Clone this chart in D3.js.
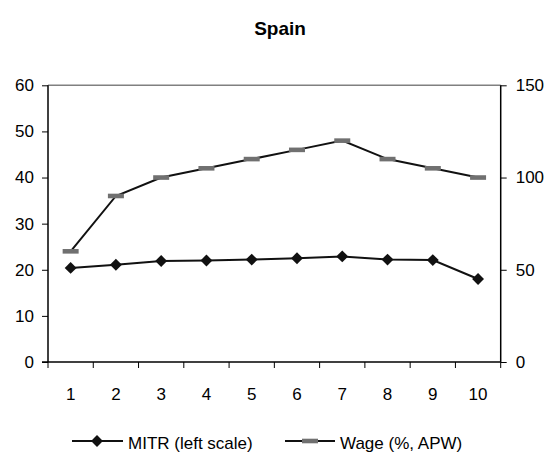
<!DOCTYPE html>
<html>
<head>
<meta charset="utf-8">
<script src="https://cdn.jsdelivr.net/npm/d3@7"></script>
<style>
body{margin:0;background:#fff}
text{font-family:"Liberation Sans",Arial,sans-serif}
</style>
</head>
<body>
<div id="chart"></div>
<script>
var categories = [1,2,3,4,5,6,7,8,9,10]
var mitr = [20.4,21.1,21.9,22.0,22.2,22.5,22.9,22.2,22.1,18.0]
var wage = [60,90,100,105,110,115,120,110,105,100]
var leftTicks = [0,10,20,30,40,50,60]
var rightTicks = [0,50,100,150]
var title = "Spain"
var seriesNames = ["MITR (left scale)","Wage (%, APW)"]

drawChart()

function drawChart(){
    var width = 551, height = 462
    var left = 48, right = 500.7, top = 85.3, bottom = 362
    var svg = d3.select("#chart").append("svg").attr("width",width).attr("height",height)

    var x = d3.scaleBand().domain(categories).range([left,right]).padding(0)
    var yL = d3.scaleLinear().domain([0,60]).range([bottom,top])
    var yR = d3.scaleLinear().domain([0,150]).range([bottom,top])
    var cx = function(d){return x(d)+x.bandwidth()/2}

    svg.append("text").attr("x",280).attr("y",35).attr("text-anchor","middle")
        .attr("font-size",19).attr("font-weight","bold").text(title)

    // top border of plot
    svg.append("line").attr("x1",left).attr("x2",right).attr("y1",top).attr("y2",top)
        .attr("stroke","#808080").attr("stroke-width",1.5)

    var axL = svg.append("g").attr("transform","translate("+left+",0)")
        .call(d3.axisLeft(yL).tickValues(leftTicks).tickSize(6).tickPadding(8))
    var axR = svg.append("g").attr("transform","translate("+right+",0)")
        .call(d3.axisRight(yR).tickValues(rightTicks).tickSize(6).tickPadding(9))
    var axB = svg.append("g").attr("transform","translate(0,"+bottom+")")
        .call(d3.axisBottom(x).tickSize(0).tickPadding(0))

    // x ticks at band edges
    var edges = categories.map(function(d){return x(d)}).concat([right])
    axB.selectAll(".edge").data(edges).enter().append("line").attr("class","edge")
        .attr("x1",function(d){return d}).attr("x2",function(d){return d})
        .attr("y1",0).attr("y2",6).attr("stroke","#000")
    axB.selectAll(".tick text").attr("dy",null).attr("y",38)

    ;[axL,axR,axB].forEach(function(a){
        a.select(".domain").attr("stroke","#000").attr("stroke-width",1.5)
        a.selectAll(".tick line").attr("stroke","#000")
        a.selectAll("text").attr("font-size",17).attr("fill","#000")
            .attr("font-family","'Liberation Sans',Arial,sans-serif")
    })
    axL.select(".domain").attr("d","M0,"+bottom+"V"+top)
    axR.select(".domain").attr("d","M0,"+bottom+"V"+top)
    axB.select(".domain").attr("d","M"+(left-6)+",0H"+right)

    var lineW = d3.line().x(function(d,i){return cx(categories[i])}).y(function(d){return yR(d)})
    var lineM = d3.line().x(function(d,i){return cx(categories[i])}).y(function(d){return yL(d)})

    svg.append("path").datum(wage).attr("d",lineW).attr("fill","none")
        .attr("stroke","#111").attr("stroke-width",2)
    svg.selectAll(".wm").data(wage).enter().append("rect").attr("class","wm")
        .attr("x",function(d,i){return cx(categories[i])-8}).attr("y",function(d){return yR(d)-2.3})
        .attr("width",16).attr("height",4.6).attr("fill","#707070")

    svg.append("path").datum(mitr).attr("d",lineM).attr("fill","none")
        .attr("stroke","#111").attr("stroke-width",2)
    var diamond = d3.symbol().type(d3.symbolDiamond2).size(90)
    svg.selectAll(".mm").data(mitr).enter().append("path").attr("class","mm")
        .attr("d",diamond)
        .attr("transform",function(d,i){return "translate("+cx(categories[i])+","+yL(d)+")"})
        .attr("fill","#111")

    // legend
    var ly = 441
    var lg = svg.append("g")
    lg.append("line").attr("x1",72).attr("x2",123).attr("y1",ly).attr("y2",ly)
        .attr("stroke","#111").attr("stroke-width",2)
    lg.append("path").attr("d",diamond).attr("transform","translate(97,"+ly+")").attr("fill","#111")
    lg.append("text").attr("x",128).attr("y",ly+7.5).attr("font-size",17).text(seriesNames[0])
    lg.append("line").attr("x1",285).attr("x2",335).attr("y1",ly).attr("y2",ly)
        .attr("stroke","#111").attr("stroke-width",2)
    lg.append("rect").attr("x",302).attr("y",ly-2.3).attr("width",16).attr("height",4.6).attr("fill","#707070")
    lg.append("text").attr("x",340).attr("y",ly+7.5).attr("font-size",17).text(seriesNames[1])
}
</script>
</body>
</html>
